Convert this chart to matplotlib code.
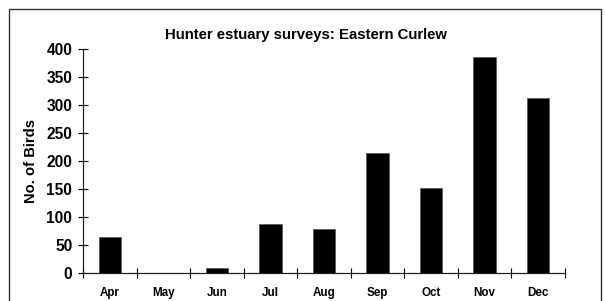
import matplotlib
matplotlib.use('Agg')
import matplotlib.pyplot as plt
from matplotlib.patches import Rectangle
import numpy as np

# ── DATA ──────────────────────────────────────────────────────────────────────
months = ['Apr', 'May', 'Jun', 'Jul', 'Aug', 'Sep', 'Oct', 'Nov', 'Dec']
birds = [65, 0, 9, 88, 79, 214, 151, 385, 313]
y_ticks = [0, 50, 100, 150, 200, 250, 300, 350, 400]

plt.rcParams['font.family'] = ['Liberation Sans', 'DejaVu Sans']
plt.rcParams['font.weight'] = 'bold'

# ── FIGURE ────────────────────────────────────────────────────────────────────
fig = plt.figure(figsize=(6.05, 3.01), dpi=100)
ax = fig.add_axes([83 / 605, 1 - 273 / 301, (565 - 83) / 605, (273 - 49) / 301])

x = np.arange(len(months))
ax.bar(x, birds, width=0.42, color='black', edgecolor='#555555', linewidth=0.5)

ax.set_xlim(-0.5, len(months) - 0.5)
ax.set_ylim(0, 400)

# month labels in the middle, tick marks at category boundaries
ax.set_xticks(x)
ax.set_xticklabels(months, fontsize=8.4, fontweight='bold')
ax.tick_params(axis='x', which='major', length=0, pad=10)
ax.set_xticks(np.arange(len(months) + 1) - 0.5, minor=True)
ax.tick_params(axis='x', which='minor', direction='inout', length=7.5, width=0.8)

ax.set_yticks(y_ticks)
ax.set_yticklabels([str(v) for v in y_ticks], fontsize=11.2, fontweight='bold')
ax.tick_params(axis='y', direction='inout', length=7.5, width=0.8, pad=4)

for side in ['top', 'right']:
    ax.spines[side].set_visible(False)
for side in ['left', 'bottom']:
    ax.spines[side].set_linewidth(0.9)
    ax.spines[side].set_color('#222222')

ax.set_ylabel('No. of Birds', fontsize=10.6, fontweight='bold', labelpad=6)
fig.text(306 / 605, 1 - 35 / 301, 'Hunter estuary surveys: Eastern Curlew',
         ha='center', va='center', fontsize=10.7, fontweight='bold')

# outer chart frame (runs off the bottom of the image)
fig.patches.append(Rectangle((9 / 605, -0.1), (601 - 9) / 605, 1.1 - 9 / 301,
                             transform=fig.transFigure, fill=False,
                             edgecolor='#333333', linewidth=1.0))

fig.savefig('out.png', dpi=100)
